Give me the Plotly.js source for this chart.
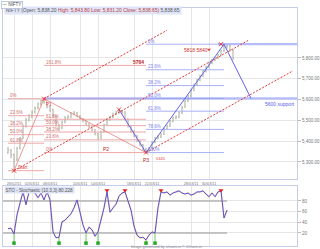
<!DOCTYPE html>
<html><head><meta charset="utf-8">
<script src="https://cdn.plot.ly/plotly-3.0.1.min.js"></script>
<style>html,body{margin:0;padding:0;background:#fff;}#c{width:320px;height:249px;}</style>
</head><body><div id="c"></div>
<script>
// ---------- data ----------
const dateTicks = ["28/02/11","02/03/11","08/03/11","10/03/11","14/03/11","18/03/11","22/03/11","28/03/11","30/03/11"];
const dateTickBars = [2,8,14,24,30,42,48,61,67];
const priceTicks = [5300,5400,5500,5600,5700,5800];
const stochTicks = [20,40,60,80];

const firstOpen = 5345;
const closes = [5358,5334,5310,5367,5415,5473,5502,5516,5540,5560,
  5579,5593,5588,5564,5550,5521,5478,5463,5492,5512,
  5516,5531,5536,5521,5507,5497,5483,5468,5454,5435,
  5415,5444,5478,5502,5516,5531,5536,5545,5540,5507,
  5473,5449,5425,5401,5382,5362,5353,5367,5396,5415,
  5420,5435,5459,5473,5497,5512,5516,5536,5564,5593,
  5617,5646,5670,5694,5713,5737,5757,5776,5790,5800,
  5814,5834,5853,5858,5838,5800];
const highs = [5372,5362,5340,5372,5420,5480,5512,5530,5548,5566,
  5586,5598,5604,5590,5570,5556,5524,5482,5498,5520,
  5526,5540,5545,5540,5525,5510,5500,5486,5472,5458,
  5440,5450,5484,5508,5522,5537,5544,5552,5550,5544,
  5510,5476,5452,5430,5405,5386,5368,5372,5400,5420,
  5428,5440,5465,5480,5502,5518,5524,5542,5570,5598,
  5622,5652,5676,5700,5720,5742,5762,5782,5796,5806,
  5820,5840,5866,5862,5862,5842];
const lows = [5340,5318,5258,5305,5360,5410,5465,5495,5510,5532,
  5552,5570,5580,5558,5540,5512,5470,5450,5458,5486,
  5505,5510,5525,5515,5500,5490,5476,5460,5446,5428,
  5405,5410,5440,5474,5498,5510,5525,5532,5530,5500,
  5466,5440,5418,5395,5375,5355,5345,5348,5360,5390,
  5408,5415,5430,5455,5468,5490,5505,5510,5530,5560,
  5588,5612,5640,5665,5688,5708,5730,5750,5770,5784,
  5794,5808,5828,5845,5830,5790];

const stochK = [28,29,18,54,76,97,73,97,99,95,
  86,95,82,97,82,22,11,12,41,44,
  50,56,67,82,59,35,20,31,26,14,
  22,44,67,97,59,67,74,89,95,97,
  82,63,33,16,11,12,7,16,22,20,
  67,97,95,97,91,95,97,99,95,93,
  95,91,93,97,97,99,93,88,95,88,
  97,99,48,63];
const stochLevels = [80,20];
const sellBars = [5,11,13,33,39,51,71];
const buyBars = [2,17,26,30,46,49];
const sellMark = 100, buyMark = 1;

// pitchfork pivots: Start (low), P1 (high), P3 (low)
const forkBars = [2,12,46];
const forkEndBars = [80,53,95];      // median, upper, lower
// swing (blue zigzag): swing high, P3 low, peak high, then 50% target
const swingBars = [37,46,72,81];
const fibLevels1 = [0,0.236,0.382,0.5,0.618,1];
const fibLabels1 = ["0%","23.6%","38.2%","50.0%","61.8%","100%"];
const fibLevels2 = [0,0.236,0.382,0.5,0.618,1,1.618];
const fibLabels2 = ["0%","23.6%","38.2%","50.0%","61.8%","100%","161.8%"];
const fibLevels3 = [0,0.236,0.382,0.5,0.618,0.786,1];
const fibLabels3 = ["0%","23.6%","38.2%","50.0%","61.8%","78.6%","100%"];
const targetPrices = [5818,5840];
const pivotNames = ["Start","P1","P2","P3"];
const p2Bar = 30;

// ---------- derived ----------
const bars = closes.map((_,i)=>i);
const opens = [firstOpen].concat(closes.slice(0,-1));
const xMin = -1.667, xMax = 96.33;

const A = [forkBars[0], lows[forkBars[0]]];
const B = [forkBars[1], highs[forkBars[1]]];
const C = [forkBars[2], lows[forkBars[2]]];
const M = [(B[0]+C[0])/2, (B[1]+C[1])/2];
const slope = (M[1]-A[1])/(M[0]-A[0]);
const at = (p, b) => p[1] + slope*(b-p[0]);

const swingHigh = highs[swingBars[0]], p3Low = lows[swingBars[1]], peak = highs[swingBars[2]];
const fib3Price = l => peak - l*(peak-p3Low);
const swingPrices = [swingHigh, p3Low, peak, fib3Price(0.5)];

const traces = [];
const red = '#e23a3a', fibRed = '#eda8a8', fibBlue = '#aab0f5', blue = '#6262ee';

function fibTrace(levels, priceFn, b0, b1, color){
  const x=[], y=[];
  levels.forEach(l=>{ x.push(b0,b1,null); y.push(priceFn(l),priceFn(l),null); });
  return {type:'scatter', mode:'lines', x, y, xaxis:'x', yaxis:'y', line:{color, width:1}, hoverinfo:'skip'};
}
const fib1Price = l => B[1] - l*(B[1]-A[1]);
const fib2Price = l => C[1] + l*(B[1]-C[1]);
traces.push(fibTrace(fibLevels1, fib1Price, 0, B[0], fibRed));
traces.push(fibTrace(fibLevels2, fib2Price, B[0], C[0], fibRed));
traces.push(fibTrace(fibLevels3, fib3Price, swingBars[1], swingBars[2], fibBlue));
traces.push({type:'scatter', mode:'lines', xaxis:'x', yaxis:'y', hoverinfo:'skip',
  x:[B[0], 99, null, swingBars[2]-2, xMax], y:[fib3Price(0.5), fib3Price(0.5), null, peak, peak],
  line:{color:'rgba(150,160,250,0.7)', width:2.2}});

// candles
traces.push({type:'ohlc', x:bars, open:opens, high:highs, low:lows, close:closes, xaxis:'x', yaxis:'y',
  increasing:{line:{color:'#a3ad97', width:1}}, decreasing:{line:{color:'#b0a698', width:1}},
  tickwidth:0.2, hoverinfo:'skip'});

// pitchfork
traces.push({type:'scatter', mode:'lines', xaxis:'x', yaxis:'y', hoverinfo:'skip',
  x:[A[0], forkEndBars[0], null, B[0], forkEndBars[1], null, C[0], forkEndBars[2]],
  y:[A[1], at(A,forkEndBars[0]), null, B[1], at(B,forkEndBars[1]), null, C[1], at(C,forkEndBars[2])],
  line:{color:red, width:1, dash:'2px,1.5px'}});
traces.push({type:'scatter', mode:'lines', xaxis:'x', yaxis:'y', hoverinfo:'skip',
  x:[A[0],B[0],C[0]], y:[A[1],B[1],C[1]], line:{color:'#e86a6a', width:0.7}});
traces.push({type:'scatter', mode:'lines', xaxis:'x', yaxis:'y', hoverinfo:'skip',
  x:swingBars, y:swingPrices, line:{color:blue, width:1}});
traces.push({type:'scatter', mode:'markers', xaxis:'x', yaxis:'y', hoverinfo:'skip',
  x:[A[0],B[0],swingBars[0],C[0],swingBars[2]-1], y:[A[1],B[1],swingHigh,C[1],peak],
  marker:{symbol:'x-thin', size:4, line:{color:red, width:1}}});
traces.push({type:'scatter', mode:'markers', xaxis:'x', yaxis:'y', hoverinfo:'skip',
  x:[67], y:[targetPrices[1]], marker:{symbol:'triangle-down', size:3.5, color:red}});

// stochastic
traces.push({type:'scatter', mode:'lines', xaxis:'x2', yaxis:'y2', hoverinfo:'skip',
  x:[xMin, stochK.length-1, null, xMin, stochK.length-1], y:[stochLevels[0],stochLevels[0],null,stochLevels[1],stochLevels[1]],
  line:{color:'#b4b4b4', width:1.3}});
const sx=[], sy=[]; sellBars.forEach(b=>{sx.push(b,b,null); sy.push(stochK[b],sellMark,null);});
const bx=[], by=[]; buyBars.forEach(b=>{bx.push(b,b,null); by.push(stochK[b],buyMark,null);});
traces.push({type:'scatter', mode:'lines', xaxis:'x2', yaxis:'y2', x:sx, y:sy, line:{color:'#f0a040', width:1}, hoverinfo:'skip'});
traces.push({type:'scatter', mode:'lines', xaxis:'x2', yaxis:'y2', x:bx, y:by, line:{color:'#66cc66', width:1}, hoverinfo:'skip'});
traces.push({type:'scatter', mode:'lines', xaxis:'x2', yaxis:'y2', x:bars.slice(0,stochK.length), y:stochK,
  line:{color:'#f0b050', width:1.8}, opacity:0.35, hoverinfo:'skip'});
traces.push({type:'scatter', mode:'lines', xaxis:'x2', yaxis:'y2', x:bars.slice(0,stochK.length), y:stochK,
  line:{color:'#5a4fd8', width:1}, hoverinfo:'skip'});
traces.push({type:'scatter', mode:'markers', xaxis:'x2', yaxis:'y2', x:sellBars, y:sellBars.map(()=>sellMark),
  marker:{symbol:'triangle-down', size:4.5, color:'#e02020'}, hoverinfo:'skip'});
traces.push({type:'scatter', mode:'markers', xaxis:'x2', yaxis:'y2', x:buyBars, y:buyBars.map(()=>buyMark),
  marker:{symbol:'square', size:3.5, color:'#22aa22'}, hoverinfo:'skip'});

// ---------- annotations ----------
const ann = [];
const tf = (c,s)=>({family:'Arial, Liberation Sans', size:s||4.5, color:c});
function fibAnn(levels, labels, priceFn, b, color){
  levels.forEach((l,k)=>ann.push({xref:'x', yref:'y', x:b, y:priceFn(l), text:labels[k], showarrow:false,
    xanchor:'left', yanchor:'bottom', yshift:-1.5, font:tf(color)}));
}
fibAnn(fibLevels1.slice(0,5), fibLabels1, fib1Price, 0, '#d07070');
fibAnn(fibLevels2.filter(l=>l!==1), fibLabels2.filter((t,k)=>fibLevels2[k]!==1), fib2Price, B[0], '#d07070');
fibAnn(fibLevels3, fibLabels3, fib3Price, swingBars[1], '#7c84ee');
ann.push({xref:'x', yref:'y', x:C[0], y:fib2Price(1.618), text:'<b>'+Math.round(fib2Price(1.618))+'</b>', showarrow:false, xanchor:'right', yanchor:'bottom', yshift:-2, font:tf('#c02020',5)});
ann.push({xref:'x', yref:'y', x:A[0]+0.8, y:A[1], text:pivotNames[0], showarrow:false, xanchor:'left', yanchor:'bottom', yshift:-1, font:tf(red,4.5)});
ann.push({xref:'x', yref:'y', x:B[0], y:B[1], text:pivotNames[1], showarrow:false, xanchor:'left', yanchor:'top', yshift:-1, font:tf(red,4.5)});
ann.push({xref:'x', yref:'y', x:p2Bar+1, y:lows[p2Bar], text:pivotNames[2], showarrow:false, xanchor:'left', yanchor:'top', yshift:-4, font:tf('#c02020',5)});
ann.push({xref:'x', yref:'y', x:C[0], y:C[1], text:pivotNames[3], showarrow:false, xanchor:'center', yanchor:'top', yshift:-2, font:tf('#c02020',5)});
ann.push({xref:'x', yref:'y', x:C[0]+2.6, y:C[1], text:String(C[1]), showarrow:false, xanchor:'left', yanchor:'top', yshift:-1, font:tf(red,4)});
ann.push({xref:'x', yref:'y', x:58, y:targetPrices[1], text:targetPrices.join(' '), showarrow:false, xanchor:'left', yanchor:'middle', font:tf('#d03030',5)});
ann.push({xref:'x', yref:'y', x:85, y:fib3Price(0.5), text:'5600 support', showarrow:false, xanchor:'left', yanchor:'top', yshift:-1, font:tf('#5a5aee',5)});
ann.push({xref:'paper', yref:'paper', x:0.002, y:0.9874, xanchor:'left', yanchor:'middle', showarrow:false,
  text:'NIFTY (Open: 5,838.20 <span style="color:#c04040">High: 5,843.80 Low: 5,831.20 Close: 5,838.65)</span> 5,838.65',
  bgcolor:'#dfe4f6', borderpad:0.8, font:tf('#555',4.9)});
ann.push({xref:'paper', yref:'paper', x:-0.007, y:1.0147, xanchor:'left', yanchor:'middle', showarrow:false,
  text:'<span style="color:#2a9a2a">—</span> NIFTY', bordercolor:'#b5bde0', borderwidth:0.8, borderpad:0.5, bgcolor:'#fff', font:tf('#444',4.6)});
ann.push({xref:'paper', yref:'paper', x:0.002, y:0.2353, xanchor:'left', yanchor:'middle', showarrow:false,
  text:'STO - Stochastic (10,3,3) 80.228', bgcolor:'#dfe4f6', borderpad:0.5, font:tf('#555',4.6)});
ann.push({xref:'paper', yref:'paper', x:0.43, y:-0.005, xanchor:'left', yanchor:'middle', showarrow:false,
  text:'Image generated by icharts.in © iCharts.in', font:tf('#888',3.8)});

const axCommon = {showgrid:true, gridcolor:'#e6e6e6', gridwidth:1, zeroline:false, showline:true, linecolor:'#c5cde8', linewidth:1, mirror:true};
const layout = {
  width:320, height:249, margin:{l:3, r:23, t:8, b:3, pad:0},
  paper_bgcolor:'#fff', plot_bgcolor:'#fff', showlegend:false,
  font:{family:'Arial, Liberation Sans', size:5, color:'#777'},
  xaxis:Object.assign({}, axCommon, {domain:[0,1], anchor:'y', range:[xMin,xMax], tickmode:'array', tickvals:dateTickBars, ticktext:dateTicks,
    ticks:'', tickangle:0, tickfont:{size:3.8, color:'#777'}, rangeslider:{visible:false}}),
  yaxis:Object.assign({}, axCommon, {domain:[0.2815,1], anchor:'x', side:'right', range:[5218,6040], tickmode:'array', tickvals:priceTicks,
    tickformat:',.2f', ticks:'outside', ticklen:3, tickcolor:'#bbb', tickfont:{size:4.5, color:'#777'}}),
  xaxis2:Object.assign({}, axCommon, {domain:[0,1], anchor:'y2', matches:'x', range:[xMin,xMax], tickmode:'array', tickvals:dateTickBars,
    showticklabels:false, ticks:''}),
  yaxis2:Object.assign({}, axCommon, {domain:[0,0.2521], anchor:'x2', side:'right', range:[-4.4,108.1], tickmode:'array', tickvals:stochTicks,
    ticks:'outside', ticklen:3, tickcolor:'#bbb', tickfont:{size:4.5, color:'#777'}}),
  annotations:ann
};
Plotly.newPlot('c', traces, layout, {staticPlot:true, displayModeBar:false});
</script>
</body></html>
